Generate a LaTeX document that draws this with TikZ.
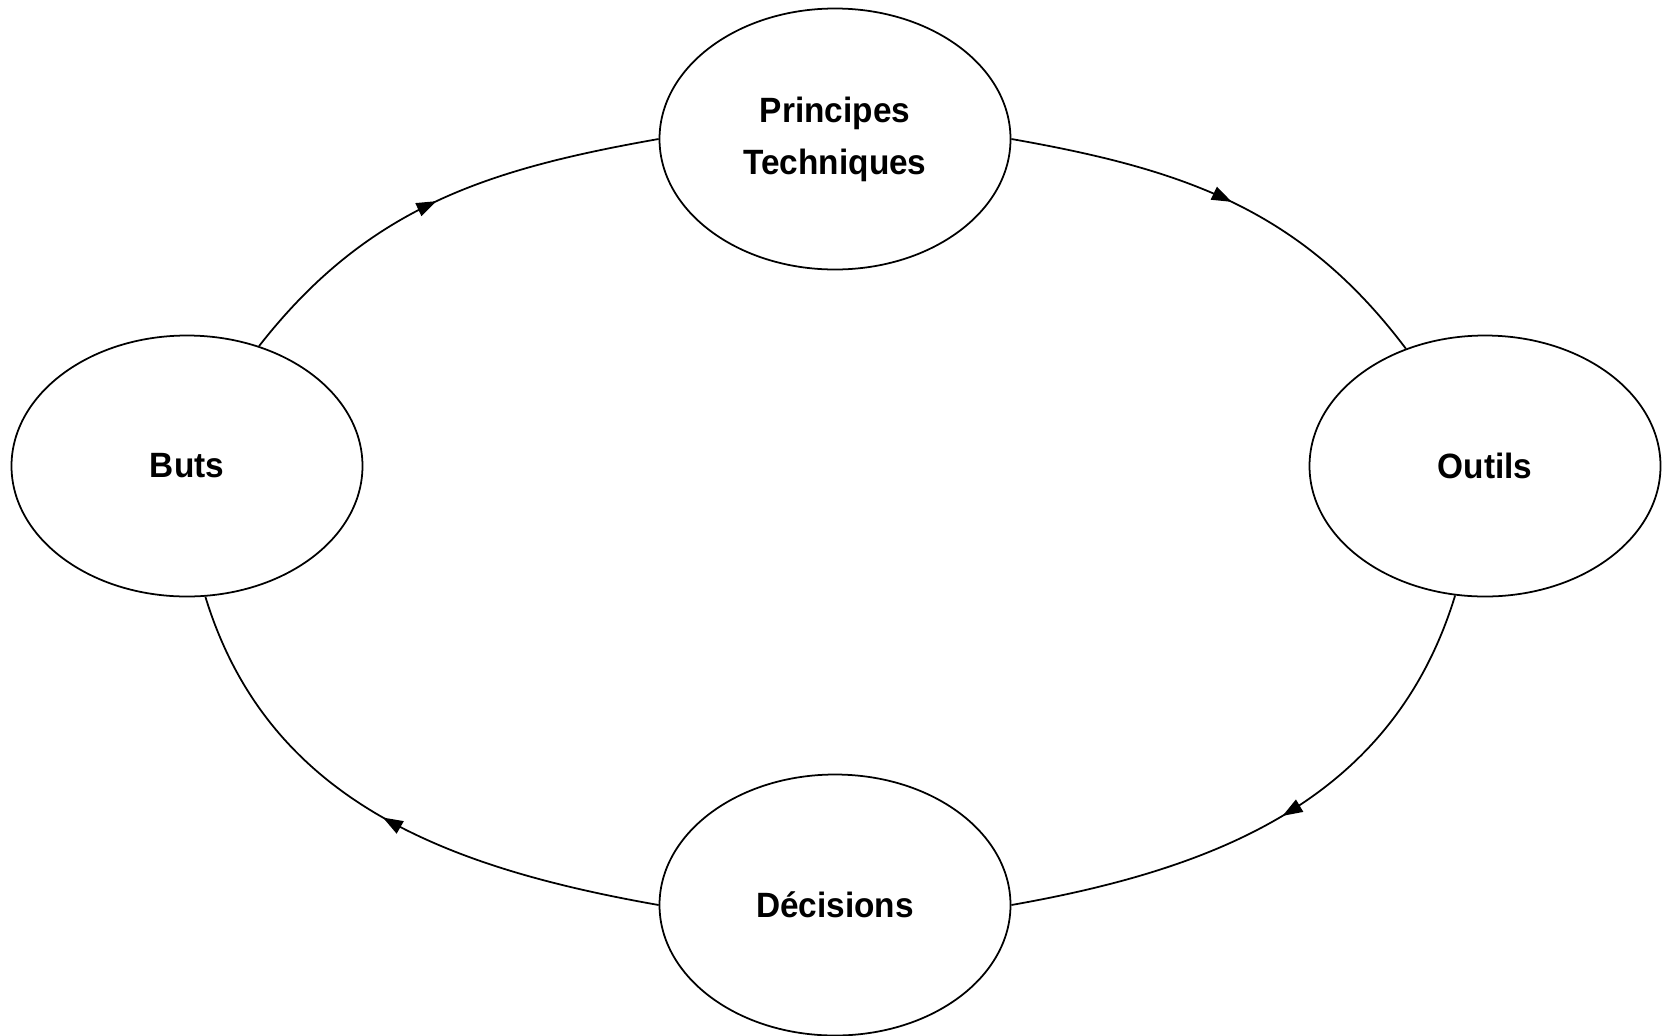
\documentclass[tikz,border=0pt]{standalone}
\usepackage{fontspec}
\setmainfont{Liberation Sans}[FakeStretch=0.95]
\usepackage{tikz}
\usetikzlibrary{shapes.geometric,arrows.meta,decorations.markings}

\begin{document}
\begin{tikzpicture}
\useasboundingbox (0,0) rectangle (16.66,10.35);
\begin{scope}[every node/.style={ellipse,draw,line width=0.5pt,inner sep=0pt,
              minimum width=3.51cm,minimum height=2.61cm,align=center,
              font=\fontsize{10}{14.8}\selectfont\bfseries}]
    \node (princ) at (8.35,8.96) {Principes\\Techniques};
    \node (outils) at (14.85,5.69) {Outils};
    \node (decis) at (8.35,1.30) {Décisions};
    \node (buts) at (1.87,5.69) {Buts};
\end{scope}

\begin{scope}[
              every edge/.style={draw=black,line width=0.5pt,postaction={decorate},
              decoration={markings,mark=at position 0.5 with
              {\arrow{Triangle[length=2mm,width=1.4mm]}}}}]
    \path  (buts.59) edge[out=52,in=190] (princ.west);
    \path  (princ.east) edge[out=-10,in=127] (outils.124);
    \path  (outils.257) edge[out=253,in=10] (decis.east);
    \path  (decis.west) edge[out=170,in=287] (buts.278);
\end{scope}
\end{tikzpicture}
\end{document}
